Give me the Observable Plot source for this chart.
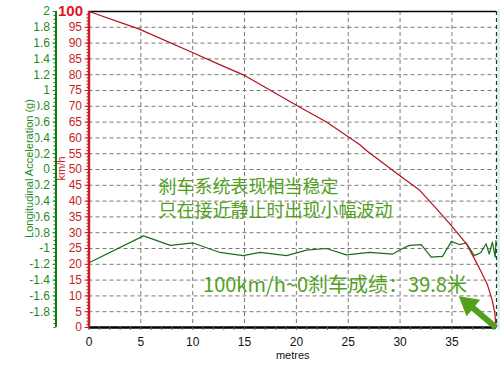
<!DOCTYPE html>
<html>
<head>
<meta charset="utf-8">
<script src="https://cdn.jsdelivr.net/npm/d3@7"></script>
<script src="https://cdn.jsdelivr.net/npm/@observablehq/plot@0.6"></script>
<style>
  body { margin: 0; background: #fff; }
  #chart svg { display: block; }
</style>
</head>
<body>
<div id="chart"></div>
<script>
// Speed (km/h) vs braking distance (metres)
const speedDist = [0, 4.79, 9.92, 12.6, 15.05, 20.0, 22.9, 25.0, 26.1, 26.75, 29.95, 31.9, 33.5, 34.8, 36.4, 37.6, 38.4, 38.9, 39.15, 39.25];
const speedKmh  = [100, 94.5, 87.1, 83.2, 79.7, 70.3, 65.0, 60.4, 57.9, 56.0, 48.1, 43.4, 37.6, 32.8, 26.5, 19.1, 13.8, 8.5, 4.3, 0];

// Longitudinal acceleration (g) vs distance (metres)
const accelDist = [0, 5.26, 7.84, 10.05, 12.64, 14.85, 16.5, 19.06, 20.98, 22.9, 24.83, 27.07, 29.3, 30.1, 30.9, 32.04, 33.0, 34.1, 34.95, 35.7, 36.37, 37.16, 37.8, 38.29, 38.6, 38.9, 39.18, 39.25];
const accelG    = [-1.18, -0.84, -0.96, -0.93, -1.05, -1.09, -1.05, -1.09, -1.02, -1.0, -1.08, -1.05, -1.07, -1.01, -0.96, -0.95, -1.11, -1.1, -0.91, -0.95, -0.93, -1.09, -1.05, -0.94, -1.07, -0.92, -1.11, -0.9];

// Tick values
const xTicks = [0, 5, 10, 15, 20, 25, 30, 35];
const speedTicks = [0, 5, 10, 15, 20, 25, 30, 35, 40, 45, 50, 55, 60, 65, 70, 75, 80, 85, 90, 95];
const speedTop = [100];
const accelTicks = [-1.8, -1.6, -1.4, -1.2, -1, -0.8, -0.6, -0.4, -0.2, 0, 0.2, 0.4, 0.6, 0.8, 1, 1.2, 1.4, 1.6, 1.8, 2];
const xMax = [39.3];

// Annotations
const noteLines = ["刹车系统表现相当稳定", "只在接近静止时出现小幅波动"];
const noteX = [6.7, 6.7];
const noteY = [44.4, 36.9];
const resultText = ["100km/h~0刹车成绩：39.8米"];
const resultX = [11.0];
const resultY = [13.3];
const arrowFrom = [39.25, 0];
const arrowHead = [36.6, 7.4];

// accel (g, -2..2) shares the km/h frame (0..100)
const g2k = g => (g + 2) * 25;

const speed = speedDist.map((d, i) => ({d, v: speedKmh[i]}));
const accel = accelDist.map((d, i) => ({d, g: accelG[i]}));
const notes = noteLines.map((t, i) => ({t, x: noteX[i], y: noteY[i]}));
const result = resultText.map((t, i) => ({t, x: resultX[i], y: resultY[i]}));
const arrow = [{x1: arrowFrom[0], y1: arrowFrom[1], x2: arrowHead[0], y2: arrowHead[1]}];

const minorSpeed = d3.range(0, 100, 1);
const minorAccel = d3.range(0, 101, 1.25);
const minorX = d3.range(0, 39.3, 1);
const gridY = speedTicks.filter(v => v > 0);
const gridX = xTicks.filter(v => v > 0);

const GREEN = "#0b7d0b";
const RED = "#c81e24";
const NOTE = "#52a01e";

const chart = Plot.plot({
  width: 500,
  height: 370,
  marginLeft: 88.5,
  marginRight: 4,
  marginTop: 11,
  marginBottom: 43,
  style: {fontFamily: "'Liberation Sans', Arial, sans-serif", background: "#fff"},
  x: {domain: [0, xMax[0]], axis: null},
  y: {domain: [0, 100], axis: null},
  marks: [
    // light strip at right edge
    Plot.frame({anchor: "right", dx: 2.5, stroke: "#d6f3ef", strokeWidth: 4}),
    // grid
    Plot.ruleY(gridY, {stroke: "#7a7a7a", strokeDasharray: "4,3", strokeWidth: 1}),
    Plot.ruleX(gridX, {stroke: "#7a7a7a", strokeDasharray: "4,3", strokeWidth: 1}),
    Plot.ruleX(xMax, {stroke: "#333", strokeDasharray: "4,3", strokeWidth: 1.2}),
    Plot.ruleY(speedTop, {stroke: "#000", strokeWidth: 1.5}),
    // series
    Plot.line(accel, {x: "d", y: d => g2k(d.g), stroke: "#1a6e1a", strokeWidth: 1.2}),
    Plot.line(speed, {x: "d", y: "v", stroke: "#b3101c", strokeWidth: 1.2}),
    // x axis
    Plot.ruleY([0], {stroke: "#000", strokeWidth: 2.5}),
    Plot.axisX({ticks: minorX, tickSize: 3, text: null, fill: "none", stroke: "#666"}),
    Plot.axisX({ticks: xTicks, tickSize: 0, tickPadding: 10, fontSize: 12, color: "#111"}),
    Plot.text(["metres"], {frameAnchor: "bottom", dy: 31, fontSize: 11, fill: "#111"}),
    // red speed axis
    Plot.ruleX([0], {stroke: RED, strokeWidth: 2.5}),
    Plot.axisY({ticks: minorSpeed, tickSize: 2, text: null, fill: "none", stroke: RED}),
    Plot.axisY({ticks: speedTicks, tickSize: 4, tickPadding: 3, fontSize: 12, color: RED}),
    Plot.axisY({ticks: speedTop, tickSize: 0, tickPadding: 6, fontSize: 15, fontWeight: "bold", color: "#e0141e"}),
    Plot.text(["km/h"], {frameAnchor: "left", textAnchor: "middle", dx: -28, dy: -1, rotate: -90, fontSize: 11, fill: RED}),
    // green acceleration axis
    Plot.ruleX([0], {dx: -33, stroke: GREEN, strokeWidth: 2}),
    Plot.axisY({ticks: minorAccel, tickSize: 2, text: null, fill: "none", dx: -33, stroke: GREEN}),
    Plot.axisY({ticks: accelTicks.map(g2k), tickSize: 3, tickPadding: 3, dx: -33, fontSize: 12, color: "#1f8a1f",
      tickFormat: k => String(+(k / 25 - 2).toFixed(1))}),
    Plot.text(["Longitudinal Acceleration (g)"], {frameAnchor: "left", textAnchor: "middle", dx: -60, dy: -1, rotate: -90,
      fontSize: 11, fill: "#1f8a1f", stroke: "#fff", strokeWidth: 4}),
    // annotations
    Plot.text(notes, {x: "x", y: "y", text: "t", textAnchor: "start", fontSize: 18, fill: NOTE,
      fontFamily: "'Noto Sans CJK SC', sans-serif"}),
    Plot.text(result, {x: "x", y: "y", text: "t", textAnchor: "start", fontSize: 20, fill: NOTE,
      fontFamily: "'Noto Sans CJK SC', sans-serif"}),
    Plot.link(arrow, {x1: "x1", y1: "y1", x2: "x2", y2: "y2", stroke: NOTE, strokeWidth: 6}),
    Plot.dot(arrow, {x: "x2", y: "y2", symbol: "triangle", r: 8, fill: NOTE, rotate: -51})
  ]
});
document.getElementById("chart").appendChild(chart);
</script>
</body>
</html>
